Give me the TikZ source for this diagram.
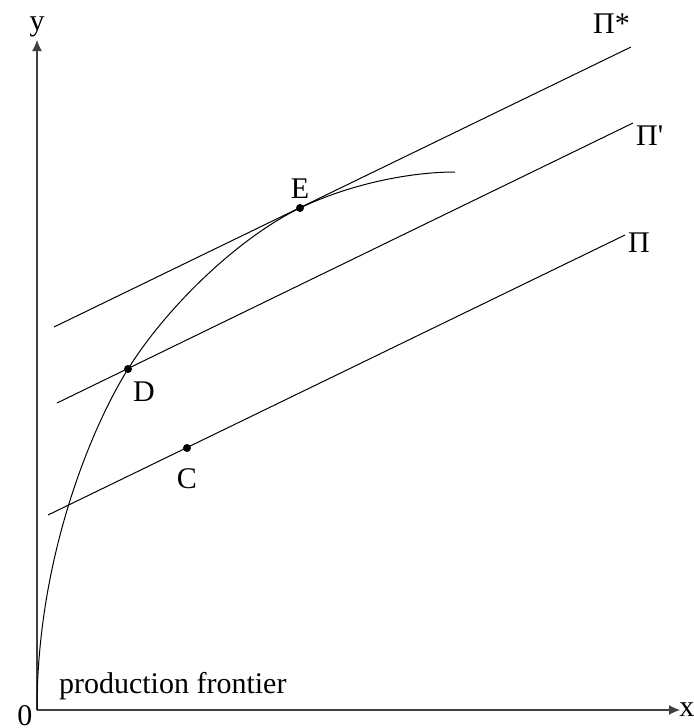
\documentclass[tikz,border=0pt]{standalone}
\usepackage{fontspec}
\setmainfont{Liberation Serif}[Ligatures=ResetAll]
\usetikzlibrary{arrows.meta}
\begin{document}
\begin{tikzpicture}[x=0.5pt,y=-0.5pt,>={Latex[length=5.5pt,width=5pt]},font=\fontsize{15}{17}\selectfont]
				\useasboundingbox (0,0) rectangle (693,728);
				\coordinate (O) at (37,710);
				\coordinate (D) at (128,369);
				\coordinate (E) at (300,208);
				\coordinate (C) at (187,448);
				\draw[->,line width=0.6pt,black!75] (O)--(680,710) node[right=-4pt,black]{x};
				\draw[->,line width=0.6pt,black!75] (O)--(37,40) node[above=-2pt,black]{y};
				\node at (25,716) {0};
				% price lines
				\draw[line width=0.5pt] (54,327)--(631,47) node[above left=-3pt,yshift=6pt]{Π*};
				\draw[line width=0.5pt] (57,403)--(633,123) node[below right=-2pt]{Π\textquotesingle};
				\draw[line width=0.5pt] (48,515)--(625,235) node[right=-2pt,yshift=-4pt]{Π};
				% frontier
				\draw[line width=0.5pt] (O) .. controls (37,560) and (90,430) .. (D)
					.. controls (168,305) and (240,237) .. (E)
					.. controls (350,184) and (410,172) .. (455,172);
				\fill (E) circle (2pt) node[above=1pt]{E};
				\fill (D) circle (2pt) node[below right,xshift=-1pt,yshift=-3pt]{D};
				\fill (C) circle (2pt) node[below=7pt]{C};
				\node[right] at (52,686) {production frontier};
			\end{tikzpicture}
\end{document}
